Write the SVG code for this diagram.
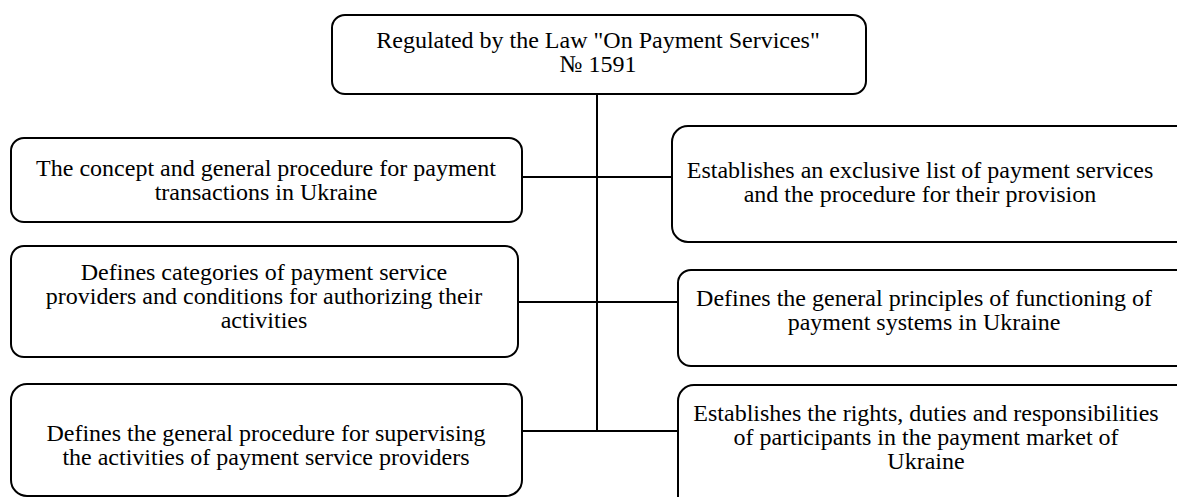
<svg xmlns="http://www.w3.org/2000/svg" width="1177" height="497" viewBox="0 0 1177 497">
<style>
.box{fill:#fff;stroke:#000;stroke-width:2}
text{font-family:'Liberation Serif','Times New Roman',serif;font-size:24px;fill:#000;text-anchor:middle}
.c{stroke:#000;stroke-width:2;fill:none}
</style>
<rect width="1177" height="497" fill="#fff"/>
<g id="connectors">
<line class="c" x1="597" y1="94" x2="597" y2="431"/>
<line class="c" x1="522" y1="177" x2="672" y2="177"/>
<line class="c" x1="518" y1="302" x2="678" y2="302"/>
<line class="c" x1="522" y1="431" x2="678" y2="431"/>
</g>
<g id="top">
<rect class="box" x="332" y="15" width="534" height="79" rx="13"/>
<text x="598" y="48">Regulated by the Law "On Payment Services"</text>
<text x="598" y="72">№ 1591</text>
</g>
<g id="l1">
<rect class="box" x="11" y="138" width="511" height="84" rx="13"/>
<text x="266" y="176">The concept and general procedure for payment</text>
<text x="266" y="200">transactions in Ukraine</text>
</g>
<g id="r1">
<rect class="box" x="672" y="126" width="520" height="116" rx="16"/>
<text x="920" y="178">Establishes an exclusive list of payment services</text>
<text x="920" y="202">and the procedure for their provision</text>
</g>
<g id="l2">
<rect class="box" x="11" y="246" width="507" height="111" rx="13"/>
<text x="264" y="280">Defines categories of payment service</text>
<text x="264" y="304">providers and conditions for authorizing their</text>
<text x="264" y="328">activities</text>
</g>
<g id="r2">
<rect class="box" x="678" y="270" width="514" height="96" rx="13"/>
<text x="924" y="306">Defines the general principles of functioning of</text>
<text x="924" y="330">payment systems in Ukraine</text>
</g>
<g id="l3">
<rect class="box" x="11" y="384" width="511" height="112" rx="16"/>
<text x="266" y="441">Defines the general procedure for supervising</text>
<text x="266" y="465">the activities of payment service providers</text>
</g>
<g id="r3">
<rect class="box" x="678" y="385" width="514" height="130" rx="16"/>
<text x="926" y="421">Establishes the rights, duties and responsibilities</text>
<text x="926" y="445">of participants in the payment market of</text>
<text x="926" y="469">Ukraine</text>
</g>
</svg>
